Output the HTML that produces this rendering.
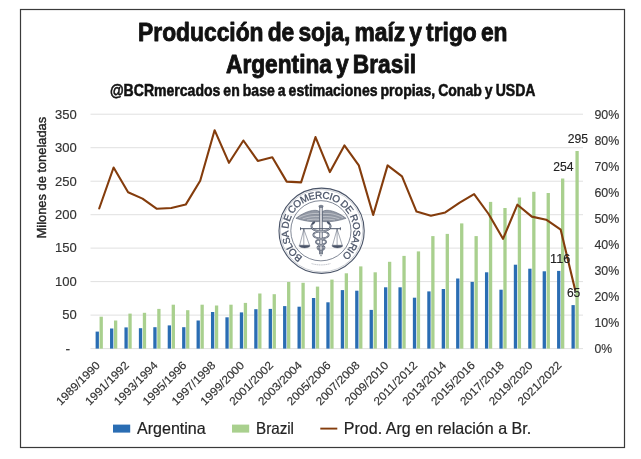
<!DOCTYPE html>
<html lang="es"><head><meta charset="utf-8"><title>Producción de soja, maíz y trigo en Argentina y Brasil</title>
<style>html,body{margin:0;padding:0;background:#fff}svg{display:block;will-change:transform;filter:opacity(0.999)}text{font-family:"Liberation Sans",sans-serif}</style></head><body>
<svg width="641" height="459" viewBox="0 0 641 459">
<rect x="0" y="0" width="641" height="459" fill="#fff"/>
<rect x="20.5" y="9.5" width="604" height="438" fill="#fff" stroke="#3a3a3a" stroke-width="1.2"/>
<g stroke="#e0e0e0" stroke-width="1">
<line x1="90.5" y1="114.2" x2="583.0" y2="114.2"/>
<line x1="90.5" y1="147.7" x2="583.0" y2="147.7"/>
<line x1="90.5" y1="181.2" x2="583.0" y2="181.2"/>
<line x1="90.5" y1="214.7" x2="583.0" y2="214.7"/>
<line x1="90.5" y1="248.1" x2="583.0" y2="248.1"/>
<line x1="90.5" y1="281.6" x2="583.0" y2="281.6"/>
<line x1="90.5" y1="315.1" x2="583.0" y2="315.1"/>
<line x1="90.5" y1="348.6" x2="583.0" y2="348.6"/>
</g>
<g fill="#a9d08e">
<rect x="99.56" y="316.7" width="3.3" height="31.9"/>
<rect x="113.98" y="320.5" width="3.3" height="28.1"/>
<rect x="128.40" y="313.6" width="3.3" height="35.0"/>
<rect x="142.82" y="312.8" width="3.3" height="35.8"/>
<rect x="157.24" y="308.9" width="3.3" height="39.7"/>
<rect x="171.66" y="304.7" width="3.3" height="43.9"/>
<rect x="186.08" y="310.2" width="3.3" height="38.4"/>
<rect x="200.50" y="304.7" width="3.3" height="43.9"/>
<rect x="214.92" y="305.5" width="3.3" height="43.1"/>
<rect x="229.35" y="304.7" width="3.3" height="43.9"/>
<rect x="243.77" y="302.9" width="3.3" height="45.7"/>
<rect x="258.19" y="293.5" width="3.3" height="55.1"/>
<rect x="272.61" y="294.2" width="3.3" height="54.4"/>
<rect x="287.03" y="282.0" width="3.3" height="66.6"/>
<rect x="301.45" y="282.8" width="3.3" height="65.8"/>
<rect x="315.87" y="286.6" width="3.3" height="62.0"/>
<rect x="330.29" y="279.6" width="3.3" height="69.0"/>
<rect x="344.71" y="273.3" width="3.3" height="75.3"/>
<rect x="359.13" y="266.4" width="3.3" height="82.2"/>
<rect x="373.55" y="272.3" width="3.3" height="76.3"/>
<rect x="387.97" y="261.8" width="3.3" height="86.8"/>
<rect x="402.39" y="255.9" width="3.3" height="92.7"/>
<rect x="416.81" y="251.4" width="3.3" height="97.2"/>
<rect x="431.23" y="236.1" width="3.3" height="112.5"/>
<rect x="445.65" y="233.9" width="3.3" height="114.7"/>
<rect x="460.07" y="223.4" width="3.3" height="125.2"/>
<rect x="474.50" y="236.1" width="3.3" height="112.5"/>
<rect x="488.92" y="201.9" width="3.3" height="146.7"/>
<rect x="503.34" y="208.0" width="3.3" height="140.6"/>
<rect x="517.76" y="197.5" width="3.3" height="151.1"/>
<rect x="532.18" y="191.8" width="3.3" height="156.8"/>
<rect x="546.60" y="193.0" width="3.3" height="155.6"/>
<rect x="561.02" y="178.5" width="3.3" height="170.1"/>
<rect x="575.44" y="151.0" width="3.3" height="197.6"/>
</g>
<g fill="#2a6db3">
<rect x="95.61" y="331.6" width="3.3" height="17.0"/>
<rect x="110.03" y="328.5" width="3.3" height="20.1"/>
<rect x="124.45" y="327.4" width="3.3" height="21.2"/>
<rect x="138.87" y="328.2" width="3.3" height="20.4"/>
<rect x="153.29" y="327.2" width="3.3" height="21.4"/>
<rect x="167.71" y="325.4" width="3.3" height="23.2"/>
<rect x="182.13" y="327.2" width="3.3" height="21.4"/>
<rect x="196.55" y="320.5" width="3.3" height="28.1"/>
<rect x="210.97" y="312.0" width="3.3" height="36.6"/>
<rect x="225.40" y="317.3" width="3.3" height="31.3"/>
<rect x="239.82" y="312.4" width="3.3" height="36.2"/>
<rect x="254.24" y="309.2" width="3.3" height="39.4"/>
<rect x="268.66" y="308.9" width="3.3" height="39.7"/>
<rect x="283.08" y="306.1" width="3.3" height="42.5"/>
<rect x="297.50" y="306.7" width="3.3" height="41.9"/>
<rect x="311.92" y="298.0" width="3.3" height="50.6"/>
<rect x="326.34" y="302.3" width="3.3" height="46.3"/>
<rect x="340.76" y="290.1" width="3.3" height="58.5"/>
<rect x="355.18" y="290.7" width="3.3" height="57.9"/>
<rect x="369.60" y="309.9" width="3.3" height="38.7"/>
<rect x="384.02" y="287.3" width="3.3" height="61.3"/>
<rect x="398.44" y="287.3" width="3.3" height="61.3"/>
<rect x="412.86" y="297.7" width="3.3" height="50.9"/>
<rect x="427.28" y="291.4" width="3.3" height="57.2"/>
<rect x="441.70" y="289.0" width="3.3" height="59.6"/>
<rect x="456.12" y="278.5" width="3.3" height="70.1"/>
<rect x="470.55" y="281.9" width="3.3" height="66.7"/>
<rect x="484.97" y="272.3" width="3.3" height="76.3"/>
<rect x="499.39" y="289.7" width="3.3" height="58.9"/>
<rect x="513.81" y="264.7" width="3.3" height="83.9"/>
<rect x="528.23" y="268.7" width="3.3" height="79.9"/>
<rect x="542.65" y="271.3" width="3.3" height="77.3"/>
<rect x="557.07" y="270.9" width="3.3" height="77.7"/>
<rect x="571.49" y="305.1" width="3.3" height="43.5"/>
</g>
<g id="seal">
<circle cx="321.6" cy="230.75" r="43.2" fill="#fff" fill-opacity="0.2"/>
<circle cx="321.6" cy="230.75" r="42.6" fill="none" stroke="#4a5468" stroke-width="1.1"/>
<circle cx="321.6" cy="230.75" r="41.2" fill="none" stroke="#4a5468" stroke-width="0.35" opacity="0.8"/>
<g transform="translate(-0.7,0)">
<circle cx="321.6" cy="230.75" r="30.1" fill="none" stroke="#4a5468" stroke-width="0.7"/>
<path id="sealarc" d="M303.48,257.12 A32.0,32.0 0 1 1 339.72,204.38 A32.0,32.0 0 1 1 303.48,257.12" fill="none"/>
<text font-size="9.9" fill="#4a5468" stroke="#4a5468" stroke-width="0.3" textLength="160.7" lengthAdjust="spacing"><textPath href="#sealarc" textLength="160.7" lengthAdjust="spacing">BOLSA DE COMERCIO DE ROSARIO</textPath></text>
<g fill="none" stroke="#4a5468" stroke-linecap="round" stroke-linejoin="round">
<path d="M320.3,207 V253.4 M323.1,207 V253.4" stroke-width="0.7"/>
<path d="M321.7,207 V253" stroke="#4a5468" stroke-width="1.6" opacity="0.25"/>
<ellipse cx="321.7" cy="206.3" rx="2.6" ry="1.6" fill="#4a5468" stroke="none" opacity="0.7"/>
<path d="M320.2,253.4 L321.7,256.2 L323.2,253.4" stroke-width="0.5"/>
<path d="M319.8,211.2 C316,208.6 306,211 296.6,218.3 C303,220.6 312,222.4 319.8,221.6 Z" fill="#4a5468" fill-opacity="0.6" stroke-width="0.5"/>
<path d="M323.6,211.2 C327.4,208.6 337.4,211 346.8,218.3 C340.4,220.6 331.4,222.4 323.6,221.6 Z" fill="#4a5468" fill-opacity="0.6" stroke-width="0.5"/>
<path d="M300,217.4 C306.5,214.2 313,213 319.4,213.6 M303.6,218.8 C309,216.8 315,216.2 319.4,216.5 M308,220 C312,219.2 316,219 319.4,219.3" stroke="#fff" stroke-width="0.45" opacity="0.85"/>
<path d="M343.4,217.4 C336.9,214.2 330.4,213 324,213.6 M339.8,218.8 C334.4,216.8 328.4,216.2 324,216.5 M335.4,220 C331.4,219.2 327.4,219 324,219.3" stroke="#fff" stroke-width="0.45" opacity="0.85"/>
<path d="M301.2,228.7 H341.1" stroke-width="1"/>
<path d="M301.2,227.6 V229.8 M341.1,227.6 V229.8" stroke-width="0.8"/>
<path d="M304.5,229.2 L300.4,245.2 M304.5,229.2 L310.2,245.2 M304.5,229.2 V245.2" stroke-width="0.5"/>
<path d="M300.2,245.2 H310.4 V246.6 C308.6,248.4 302,248.4 300.2,246.6 Z" fill="#4a5468" stroke-width="0.4"/>
<path d="M337.8,229.2 L333.3,245.2 M337.8,229.2 L342.9,245.2 M337.8,229.2 V245.2" stroke-width="0.5"/>
<path d="M333.1,245.2 H343.1 V246.6 C341.3,248.4 334.9,248.4 333.1,246.6 Z" fill="#4a5468" stroke-width="0.4"/>
<path d="M313.6,223.4 C310.6,226 312.4,230.2 318,230.8 C324.6,231.4 330.4,232.4 329.2,235.8 C328,239 316.6,238.6 316.6,242 C316.6,245 325.6,244.8 325.2,247.8 C324.8,250.2 320.4,250.4 321,252.8" stroke-width="1.8"/>
<path d="M329.8,223.4 C332.8,226 331,230.2 325.4,230.8 C318.8,231.4 313,232.4 314.2,235.8 C315.4,239 326.8,238.6 326.8,242 C326.8,245 317.8,244.8 318.2,247.8 C318.6,250.2 323,250.4 322.4,252.8" stroke-width="1.8"/>
<path d="M313.6,223.4 C310.6,226 312.4,230.2 318,230.8 C324.6,231.4 330.4,232.4 329.2,235.8 C328,239 316.6,238.6 316.6,242 C316.6,245 325.6,244.8 325.2,247.8 C324.8,250.2 320.4,250.4 321,252.8" stroke="#fff" stroke-width="0.55" opacity="0.8"/>
<path d="M329.8,223.4 C332.8,226 331,230.2 325.4,230.8 C318.8,231.4 313,232.4 314.2,235.8 C315.4,239 326.8,238.6 326.8,242 C326.8,245 317.8,244.8 318.2,247.8 C318.6,250.2 323,250.4 322.4,252.8" stroke="#fff" stroke-width="0.55" opacity="0.8"/>
<ellipse cx="314.2" cy="222.8" rx="1.9" ry="1.2" fill="#4a5468" stroke="none" transform="rotate(-40 314.2 222.8)"/>
<ellipse cx="329.2" cy="222.8" rx="1.9" ry="1.2" fill="#4a5468" stroke="none" transform="rotate(40 329.2 222.8)"/>
<path d="M312.3,263.6 A34,34 0 0 0 331.1,263.6" stroke-width="0.5" stroke-dasharray="1.3 0.5" stroke-linecap="butt" opacity="0.7"/>
</g>
</g>
</g>
<polyline points="99.2,208.5 113.6,167.5 128.1,192.3 142.5,198.6 156.9,208.8 171.3,208 185.7,204.6 200.2,180.7 214.6,130.2 229.0,162.8 243.4,140.5 257.8,160.9 272.3,157.3 286.7,181.6 301.1,182.4 315.5,137.1 329.9,172.1 344.4,145.4 358.8,165.4 373.2,215 387.6,165.4 402.0,176.3 416.5,211.6 430.9,215.8 445.3,212.4 459.7,202.7 474.1,194.2 488.6,214 503.0,238.8 517.4,204.7 531.8,216.6 546.2,219.7 560.7,229.7 575.1,289.8" fill="none" stroke="#843c0c" stroke-width="2.1" stroke-linejoin="round" stroke-linecap="round"/>
<g font-weight="bold" fill="#111" stroke="#111" stroke-width="0.9" stroke-linejoin="round" text-anchor="middle" word-spacing="-2.5">
<text x="322.8" y="41" font-size="25.9" textLength="369.4" lengthAdjust="spacingAndGlyphs">Producción de soja, maíz y trigo en</text>
<text x="321" y="73" font-size="25.9" textLength="190" lengthAdjust="spacingAndGlyphs">Argentina y Brasil</text>
<text x="322.7" y="96" font-size="16.1" stroke-width="0.55" word-spacing="-1" textLength="425.5" lengthAdjust="spacingAndGlyphs">@BCRmercados en base a estimaciones propias, Conab y USDA</text>
</g>
<g font-size="12" fill="#333" stroke="#333" stroke-width="0.15" text-anchor="end">
<text x="76.8" y="118.5" textLength="21.75" lengthAdjust="spacingAndGlyphs">350</text>
<text x="76.8" y="152.0" textLength="21.75" lengthAdjust="spacingAndGlyphs">300</text>
<text x="76.8" y="185.5" textLength="21.75" lengthAdjust="spacingAndGlyphs">250</text>
<text x="76.8" y="219.0" textLength="21.75" lengthAdjust="spacingAndGlyphs">200</text>
<text x="76.8" y="252.4" textLength="21.75" lengthAdjust="spacingAndGlyphs">150</text>
<text x="76.8" y="285.9" textLength="21.75" lengthAdjust="spacingAndGlyphs">100</text>
<text x="76.8" y="319.4" textLength="14.5" lengthAdjust="spacingAndGlyphs">50</text>
<text x="70" y="352.7" textLength="4.6" lengthAdjust="spacingAndGlyphs">-</text>
</g>
<g font-size="12" fill="#333" stroke="#333" stroke-width="0.15">
<text x="594.4" y="118.5" textLength="24.8" lengthAdjust="spacingAndGlyphs">90%</text>
<text x="594.4" y="144.5" textLength="24.8" lengthAdjust="spacingAndGlyphs">80%</text>
<text x="594.4" y="170.6" textLength="24.8" lengthAdjust="spacingAndGlyphs">70%</text>
<text x="594.4" y="196.6" textLength="24.8" lengthAdjust="spacingAndGlyphs">60%</text>
<text x="594.4" y="222.7" textLength="24.8" lengthAdjust="spacingAndGlyphs">50%</text>
<text x="594.4" y="248.7" textLength="24.8" lengthAdjust="spacingAndGlyphs">40%</text>
<text x="594.4" y="274.8" textLength="24.8" lengthAdjust="spacingAndGlyphs">30%</text>
<text x="594.4" y="300.8" textLength="24.8" lengthAdjust="spacingAndGlyphs">20%</text>
<text x="594.4" y="326.9" textLength="24.8" lengthAdjust="spacingAndGlyphs">10%</text>
<text x="594.4" y="352.9" textLength="17.6" lengthAdjust="spacingAndGlyphs">0%</text>
</g>
<text transform="translate(46.2,177.6) rotate(-90)" font-size="12.8" fill="#222" stroke="#222" stroke-width="0.4" text-anchor="middle" textLength="121.5" lengthAdjust="spacingAndGlyphs">Milones de toneladas</text>
<g font-size="11.4" fill="#333" stroke="#333" stroke-width="0.15" text-anchor="end">
<text transform="translate(100.8,366.0) rotate(-45)" textLength="56.5" lengthAdjust="spacingAndGlyphs">1989/1990</text>
<text transform="translate(129.7,366.0) rotate(-45)" textLength="56.5" lengthAdjust="spacingAndGlyphs">1991/1992</text>
<text transform="translate(158.5,366.0) rotate(-45)" textLength="56.5" lengthAdjust="spacingAndGlyphs">1993/1994</text>
<text transform="translate(187.3,366.0) rotate(-45)" textLength="56.5" lengthAdjust="spacingAndGlyphs">1995/1996</text>
<text transform="translate(216.2,366.0) rotate(-45)" textLength="56.5" lengthAdjust="spacingAndGlyphs">1997/1998</text>
<text transform="translate(245.0,366.0) rotate(-45)" textLength="56.5" lengthAdjust="spacingAndGlyphs">1999/2000</text>
<text transform="translate(273.9,366.0) rotate(-45)" textLength="56.5" lengthAdjust="spacingAndGlyphs">2001/2002</text>
<text transform="translate(302.7,366.0) rotate(-45)" textLength="56.5" lengthAdjust="spacingAndGlyphs">2003/2004</text>
<text transform="translate(331.5,366.0) rotate(-45)" textLength="56.5" lengthAdjust="spacingAndGlyphs">2005/2006</text>
<text transform="translate(360.4,366.0) rotate(-45)" textLength="56.5" lengthAdjust="spacingAndGlyphs">2007/2008</text>
<text transform="translate(389.2,366.0) rotate(-45)" textLength="56.5" lengthAdjust="spacingAndGlyphs">2009/2010</text>
<text transform="translate(418.1,366.0) rotate(-45)" textLength="56.5" lengthAdjust="spacingAndGlyphs">2011/2012</text>
<text transform="translate(446.9,366.0) rotate(-45)" textLength="56.5" lengthAdjust="spacingAndGlyphs">2013/2014</text>
<text transform="translate(475.7,366.0) rotate(-45)" textLength="56.5" lengthAdjust="spacingAndGlyphs">2015/2016</text>
<text transform="translate(504.6,366.0) rotate(-45)" textLength="56.5" lengthAdjust="spacingAndGlyphs">2017/2018</text>
<text transform="translate(533.4,366.0) rotate(-45)" textLength="56.5" lengthAdjust="spacingAndGlyphs">2019/2020</text>
<text transform="translate(562.3,366.0) rotate(-45)" textLength="56.5" lengthAdjust="spacingAndGlyphs">2021/2022</text>
</g>
<g font-size="12" fill="#222" stroke="#222" stroke-width="0.15">
<text x="567.8" y="142.9" textLength="20.3" lengthAdjust="spacingAndGlyphs">295</text>
<text x="553.3" y="171.0" textLength="20.3" lengthAdjust="spacingAndGlyphs">254</text>
<text x="550.0" y="262.8" textLength="20.3" lengthAdjust="spacingAndGlyphs">116</text>
<text x="566.9" y="297.4" textLength="13.4" lengthAdjust="spacingAndGlyphs">65</text>
</g>
<rect x="113" y="424.6" width="17.2" height="8" fill="#2a6db3"/>
<rect x="232" y="424.6" width="17.2" height="8" fill="#a9d08e"/>
<line x1="320.3" y1="428.6" x2="337.3" y2="428.6" stroke="#843c0c" stroke-width="1.9"/>
<g font-size="16.5" fill="#222" stroke="#222" stroke-width="0.2">
<text x="137" y="434.2" textLength="68.7" lengthAdjust="spacingAndGlyphs">Argentina</text>
<text x="256" y="434.2" textLength="38" lengthAdjust="spacingAndGlyphs">Brazil</text>
<text x="343.8" y="434.2" textLength="187.4" lengthAdjust="spacingAndGlyphs">Prod. Arg en relación a Br.</text>
</g>
</svg></body></html>
